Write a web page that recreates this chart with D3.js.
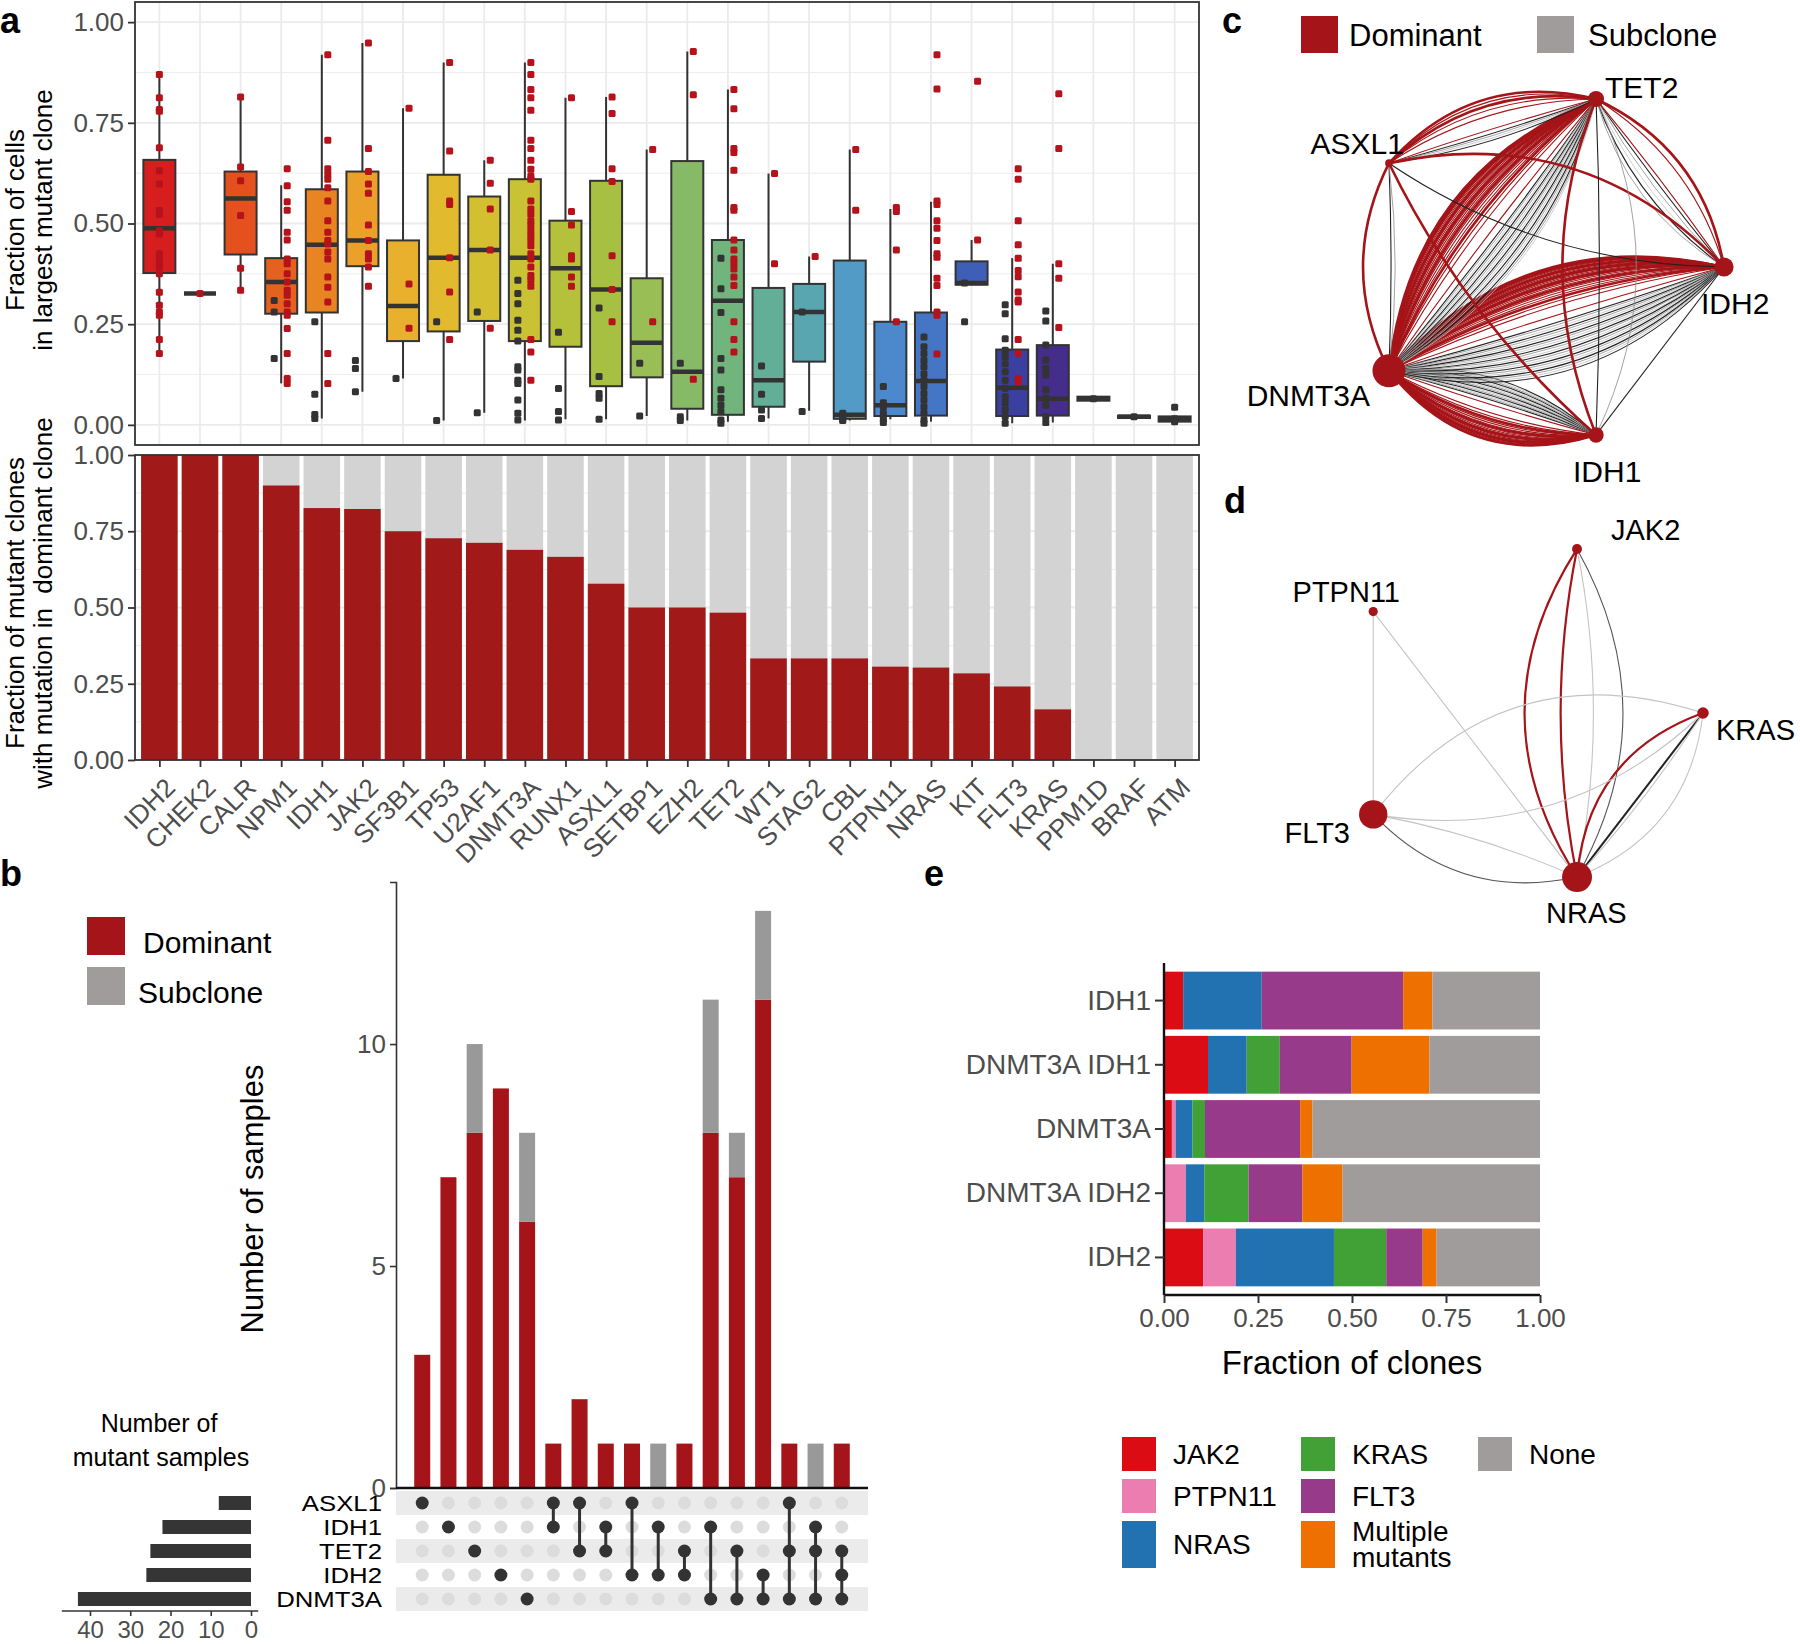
<!DOCTYPE html>
<html>
<head>
<meta charset="utf-8">
<script src="https://cdn.jsdelivr.net/npm/d3@7"></script>
<style>
body { margin: 0; background: #fff; }
svg { font-family: "Liberation Sans", Arial, Helvetica, sans-serif; }
.tick text { fill: #4d4d4d; }
</style>
</head>
<body>
<svg id="fig" width="1800" height="1644"></svg>
<script>

/*
Panel a data: genes, box statistics, points and dominant fraction
*/
var genes = ["IDH2","CHEK2","CALR","NPM1","IDH1","JAK2","SF3B1","TP53","U2AF1","DNMT3A","RUNX1","ASXL1","SETBP1",
	"EZH2","TET2","WT1","STAG2","CBL","PTPN11","NRAS","KIT","FLT3","KRAS","PPM1D","BRAF","ATM"];

var boxLow    = [0.177,0.326,0.334,0.103,0.016,0.082,0.115,0.011,0.030,0.011,0.014,0.014,0.022,0.011,0.008,0.016,0.035,0.011,0.014,0.008,0.348,0.004,0.006,0.062,0.017,0.008];
var boxQ1     = [0.377,0.326,0.423,0.276,0.279,0.394,0.208,0.232,0.258,0.208,0.194,0.096,0.118,0.040,0.025,0.045,0.157,0.015,0.022,0.023,0.348,0.022,0.023,0.060,0.017,0.008];
var boxMedian = [0.488,0.326,0.562,0.355,0.447,0.458,0.295,0.415,0.434,0.415,0.389,0.336,0.204,0.132,0.308,0.111,0.280,0.025,0.049,0.109,0.352,0.092,0.065,0.065,0.020,0.015];
var boxQ3     = [0.658,0.326,0.629,0.414,0.585,0.629,0.458,0.621,0.567,0.610,0.507,0.606,0.364,0.655,0.459,0.340,0.350,0.408,0.256,0.279,0.406,0.187,0.198,0.070,0.023,0.021];
var boxHigh   = [0.870,0.326,0.814,0.595,0.919,0.948,0.786,0.900,0.657,0.900,0.812,0.814,0.684,0.927,0.833,0.624,0.418,0.684,0.536,0.554,0.459,0.414,0.400,0.070,0.023,0.021];

// Fraction of cells per sample, mutation in dominant clone
var dominantPoints = [
	[0.870,0.812,0.783,0.779,0.688,0.631,0.598,0.532,0.523,0.482,0.474,0.425,0.412,0.400,0.392,0.375,0.329,0.297,0.280,0.272,0.212,0.177],
	[0.326],
	[0.814,0.640,0.606,0.520,0.389,0.334],
	[0.636,0.594,0.554,0.533,0.478,0.459,0.412,0.400,0.375,0.355,0.334,0.322,0.301,0.280,0.272,0.239,0.177,0.115,0.103],
	[0.919,0.707,0.636,0.622,0.610,0.589,0.556,0.507,0.478,0.458,0.449,0.429,0.412,0.367,0.342,0.305,0.177,0.103],
	[0.948,0.686,0.629,0.598,0.575,0.496,0.458,0.425,0.412,0.392,0.344],
	[0.786,0.350,0.240],
	[0.900,0.680,0.556,0.547,0.415,0.330,0.212],
	[0.657,0.600,0.536,0.434,0.240],
	[0.900,0.870,0.833,0.812,0.781,0.707,0.686,0.657,0.635,0.618,0.610,0.556,0.536,0.523,0.507,0.495,0.482,0.470,0.458,0.445,0.425,0.412,0.392,0.371,0.359,0.344,0.212,0.181,0.111],
	[0.812,0.530,0.496,0.420,0.412,0.367,0.344],
	[0.814,0.773,0.636,0.604,0.420,0.336,0.256],
	[0.684,0.256],
	[0.927,0.820,0.113],
	[0.833,0.785,0.686,0.676,0.632,0.540,0.533,0.459,0.434,0.412,0.400,0.387,0.367,0.346,0.256,0.212,0.181],
	[0.624,0.400],
	[0.418],
	[0.684,0.533],
	[0.540,0.530,0.434,0.256],
	[0.919,0.834,0.556,0.547,0.507,0.488,0.458,0.425,0.416,0.364,0.346,0.280,0.272,0.176],
	[0.853,0.459],
	[0.636,0.610,0.507,0.447,0.414,0.383,0.368,0.330,0.310,0.305,0.212,0.177,0.115,0.107],
	[0.822,0.686,0.400,0.364,0.242],
	[], [], []
];

// Fraction of cells per sample, mutation only in a subclone
var subclonePoints = [
	[], [], [],
	[0.309,0.280,0.165],
	[0.256,0.076,0.026,0.016],
	[0.160,0.140,0.082],
	[0.115],
	[0.256,0.011],
	[0.280,0.030],
	[0.359,0.326,0.301,0.260,0.235,0.208,0.144,0.136,0.111,0.103,0.062,0.029,0.012],
	[0.230,0.090,0.033,0.012],
	[0.290,0.120,0.078,0.066,0.014],
	[0.153,0.022],
	[0.153,0.020,0.011],
	[0.414,0.338,0.279,0.165,0.136,0.087,0.066,0.049,0.033,0.012,0.004],
	[0.146,0.076,0.037,0.016],
	[0.280,0.033],
	[0.029,0.021,0.014,0.011],
	[0.095,0.055,0.045,0.029,0.014,0.006],
	[0.218,0.194,0.177,0.160,0.144,0.127,0.111,0.095,0.078,0.062,0.045,0.029,0.012,0.004],
	[0.352,0.256],
	[0.298,0.276,0.214,0.185,0.169,0.152,0.132,0.111,0.091,0.070,0.054,0.037,0.021,0.004],
	[0.283,0.258,0.198,0.161,0.140,0.124,0.087,0.066,0.049,0.020,0.006],
	[0.065],
	[0.020],
	[0.044,0.015,0.008]
];

var dominantFraction = [1,1,1,0.9,0.826,0.823,0.75,0.727,0.712,0.689,0.666,0.578,0.5,0.5,0.483,0.333,0.333,0.333,0.306,0.303,0.284,0.241,0.166,0,0,0];

/*
Panel b data: upset plot
*/
var setNames = ["ASXL1","IDH1","TET2","IDH2","DNMT3A"];
var setSizes = [8,22,25,26,43];
var combos = [["ASXL1"],["IDH1"],["TET2"],["IDH2"],["DNMT3A"],["ASXL1","IDH1"],["ASXL1","TET2"],["IDH1","TET2"],
	["ASXL1","IDH2"],["IDH1","IDH2"],["TET2","IDH2"],["IDH1","DNMT3A"],["TET2","DNMT3A"],["IDH2","DNMT3A"],
	["ASXL1","TET2","DNMT3A"],["IDH1","TET2","DNMT3A"],["TET2","IDH2","DNMT3A"]];
var comboDominant = [3,7,8,9,6,1,2,1,1,0,1,8,7,11,1,0,1];
var comboSubclone = [0,0,2,0,2,0,0,0,0,1,0,3,1,2,0,1,0];

/*
Panel c and d data: co-mutation networks (circle layout order)
*/
var cGenes = ["IDH2","TET2","ASXL1","DNMT3A","IDH1"];
var cGeneSamples = [25,21,10,43,20];
var cLinks = [
	{source: "IDH1", target: "DNMT3A", dominant: 20, subclone: 16},
	{source: "DNMT3A", target: "IDH2", dominant: 26, subclone: 22},
	{source: "DNMT3A", target: "TET2", dominant: 22, subclone: 18},
	{source: "ASXL1", target: "TET2", dominant: 6, subclone: 4},
	{source: "DNMT3A", target: "ASXL1", dominant: 1, subclone: 2},
	{source: "TET2", target: "IDH2", dominant: 3, subclone: 5},
	{source: "ASXL1", target: "IDH2", dominant: 1, subclone: 1},
	{source: "IDH1", target: "TET2", dominant: 1, subclone: 2},
	{source: "IDH1", target: "ASXL1", dominant: 1, subclone: 0},
	{source: "IDH1", target: "IDH2", dominant: 0, subclone: 1}
];

var dGenes = ["KRAS","JAK2","PTPN11","FLT3","NRAS"];
var dGeneSamples = [15,13,12,37,39];
var dLinks = [
	{source: "NRAS", target: "JAK2", kind: "dominant"},
	{source: "NRAS", target: "JAK2", kind: "dominant"},
	{source: "NRAS", target: "JAK2", kind: "subclone"},
	{source: "NRAS", target: "JAK2", kind: "subclone"},
	{source: "NRAS", target: "KRAS", kind: "dominant"},
	{source: "NRAS", target: "KRAS", kind: "subclone"},
	{source: "NRAS", target: "KRAS", kind: "subclone"},
	{source: "NRAS", target: "KRAS", kind: "subclone"},
	{source: "FLT3", target: "KRAS", kind: "subclone"},
	{source: "FLT3", target: "KRAS", kind: "subclone"},
	{source: "FLT3", target: "NRAS", kind: "subclone"},
	{source: "FLT3", target: "NRAS", kind: "subclone"},
	{source: "PTPN11", target: "FLT3", kind: "subclone"},
	{source: "PTPN11", target: "NRAS", kind: "subclone"}
];

/*
Panel e data: fraction of clones with each secondary mutation
*/
var cloneRows = ["IDH1","DNMT3A IDH1","DNMT3A","DNMT3A IDH2","IDH2"];
var cloneTypes = ["JAK2","PTPN11","NRAS","KRAS","FLT3","Multiple mutants","None"];
var fracIDH1       = [0.051,0.000,0.209,0.000,0.376,0.078,0.286];
var fracDNMT3AIDH1 = [0.117,0.000,0.103,0.088,0.191,0.207,0.294];
var fracDNMT3A     = [0.021,0.010,0.045,0.033,0.253,0.033,0.605];
var fracDNMT3AIDH2 = [0.000,0.058,0.049,0.118,0.143,0.107,0.525];
var fracIDH2       = [0.104,0.087,0.261,0.139,0.097,0.037,0.275];

/*
Styles
*/
var darkRed = "#A51418";
var pointRed = "#B5121B";
var subGrey = "#999999";
var tickGrey = "#4d4d4d";
var boxColors = ["#D71E1E","#DD3A1D","#E4501E","#E5611F","#E98423","#EBA129","#E9B02D","#E1BA2E","#D4BF30","#C8C234",
	"#B6C13B","#A7C042","#98BE55","#86BA67","#71B47C","#63AE96","#5AA6B0","#519BC6","#4B88CC","#4575C5",
	"#3F5EB8","#3B40A0","#452D8B","#4B2683","#4C2380","#4D2180"];
var cloneColors = ["#DC0C14","#EB7DB0","#2272B2","#41A136","#973A8A","#EE7100","#A09C9B"];

var svg = d3.select("#fig");

/*
Panel letters
*/
svg.selectAll(".letter")
	.data([["a",0,33],["b",0,886],["c",1222,33],["d",1224,513],["e",924,886]])
	.enter().append("text")
	.attr("x", function(d) { return d[1]; })
	.attr("y", function(d) { return d[2]; })
	.attr("font-size", 36).attr("font-weight", "bold")
	.text(function(d) { return d[0]; });

/*******************************************************************************
Panel a
*******************************************************************************/
var aLeft = 135, aRight = 1199;
var xA = d3.scalePoint().domain(genes).range([aLeft, aRight]).padding(0.6);
var yTop = d3.scaleLinear().domain([-0.05, 1.05]).range([445, 2]);
var yBot = d3.scaleLinear().domain([0, 1]).range([760, 455]);
var majorTicks = [0, 0.25, 0.5, 0.75, 1];
var minorTicks = [0.125, 0.375, 0.625, 0.875];

function drawGrid(g, y) {
	g.selectAll(".minor").data(minorTicks).enter().append("line")
		.attr("x1", aLeft).attr("x2", aRight)
		.attr("y1", y).attr("y2", y)
		.attr("stroke", "#ebebeb").attr("stroke-width", 0.9);
	g.selectAll(".major").data(majorTicks).enter().append("line")
		.attr("x1", aLeft).attr("x2", aRight)
		.attr("y1", y).attr("y2", y)
		.attr("stroke", "#ebebeb").attr("stroke-width", 1.8);
	g.selectAll(".vgrid").data(genes).enter().append("line")
		.attr("x1", xA).attr("x2", xA)
		.attr("y1", y.range()[1]).attr("y2", y.range()[0])
		.attr("stroke", "#ebebeb").attr("stroke-width", 1.8);
}

function styleAxis(g, size) {
	g.select(".domain").remove();
	g.selectAll(".tick line").attr("stroke", "#333").attr("stroke-width", 1.8);
	g.selectAll(".tick text").attr("font-size", size).attr("fill", tickGrey);
}

// Top: boxplots
var gTop = svg.append("g");
drawGrid(gTop, yTop);

var boxW = 32;
genes.forEach(function(gene, i) {
	var cx = xA(gene);
	var g = gTop.append("g");
	g.append("line").attr("x1", cx).attr("x2", cx)
		.attr("y1", yTop(boxLow[i])).attr("y2", yTop(boxHigh[i]))
		.attr("stroke", "#333").attr("stroke-width", 2);
	g.append("rect")
		.attr("x", cx - boxW / 2).attr("width", boxW)
		.attr("y", yTop(boxQ3[i])).attr("height", Math.max(0, yTop(boxQ1[i]) - yTop(boxQ3[i])))
		.attr("fill", boxColors[i]).attr("stroke", "#333").attr("stroke-width", 2);
	g.append("line")
		.attr("x1", cx - boxW / 2).attr("x2", cx + boxW / 2)
		.attr("y1", yTop(boxMedian[i])).attr("y2", yTop(boxMedian[i]))
		.attr("stroke", "#333").attr("stroke-width", 4.5);

	var both = dominantPoints[i].length > 0 && subclonePoints[i].length > 0;
	g.selectAll(".sp").data(subclonePoints[i]).enter().append("rect")
		.attr("x", cx - (both ? 7 : 0) - 3.5).attr("y", function(d) { return yTop(d) - 3.5; })
		.attr("width", 7).attr("height", 7).attr("rx", 1.5)
		.attr("fill", "#333");
	g.selectAll(".dp").data(dominantPoints[i]).enter().append("rect")
		.attr("x", cx + (both ? 6 : 0) - 3.5).attr("y", function(d) { return yTop(d) - 3.5; })
		.attr("width", 7).attr("height", 7).attr("rx", 1.5)
		.attr("fill", pointRed);
});

gTop.append("rect")
	.attr("x", aLeft).attr("y", 2).attr("width", aRight - aLeft).attr("height", 443)
	.attr("fill", "none").attr("stroke", "#333").attr("stroke-width", 1.8);

gTop.append("g").attr("transform", "translate(" + aLeft + ",0)")
	.call(d3.axisLeft(yTop).tickValues(majorTicks).tickFormat(d3.format(".2f")).tickSize(7).tickPadding(4))
	.call(styleAxis, 26);

// Bottom: fraction dominant bars
var gBot = svg.append("g");
drawGrid(gBot, yBot);

var barW = xA.step() * 0.9;
gBot.selectAll(".bg").data(genes).enter().append("rect")
	.attr("x", function(d) { return xA(d) - barW / 2; }).attr("width", barW)
	.attr("y", yBot(1)).attr("height", yBot(0) - yBot(1))
	.attr("fill", "#D3D3D3");
gBot.selectAll(".fg").data(genes).enter().append("rect")
	.attr("x", function(d) { return xA(d) - barW / 2; }).attr("width", barW)
	.attr("y", function(d, i) { return yBot(dominantFraction[i]); })
	.attr("height", function(d, i) { return yBot(0) - yBot(dominantFraction[i]); })
	.attr("fill", "#A2191A");

gBot.append("rect")
	.attr("x", aLeft).attr("y", 455).attr("width", aRight - aLeft).attr("height", 305)
	.attr("fill", "none").attr("stroke", "#333").attr("stroke-width", 1.8);

gBot.append("g").attr("transform", "translate(" + aLeft + ",0)")
	.call(d3.axisLeft(yBot).tickValues(majorTicks).tickFormat(d3.format(".2f")).tickSize(7).tickPadding(4))
	.call(styleAxis, 26);

var xAxisA = gBot.append("g").attr("transform", "translate(0,760)")
	.call(d3.axisBottom(xA).tickSize(7).tickFormat(""));
styleAxis(xAxisA, 26);

gBot.selectAll(".glabel").data(genes).enter().append("text")
	.attr("transform", function(d) { return "translate(" + (xA(d) + 4) + ",776) rotate(-45)"; })
	.attr("text-anchor", "end").attr("dy", "0.72em")
	.attr("font-size", 26).attr("fill", tickGrey)
	.text(function(d) { return d; });

// Axis titles
function yTitle(lines, cy) {
	var t = svg.append("g");
	lines.forEach(function(line, k) {
		t.append("text")
			.attr("transform", "translate(" + (24 + k * 28) + "," + cy + ") rotate(-90)")
			.attr("text-anchor", "middle").attr("font-size", 26)
			.style("white-space", "pre")
			.text(line);
	});
}
yTitle(["Fraction of cells", "in largest mutant clone"], 220);
yTitle(["Fraction of mutant clones", "with mutation in  dominant clone"], 603);

/*******************************************************************************
Panel b
*******************************************************************************/
var gB = svg.append("g");
var xB = d3.scaleLinear().domain([0, combos.length + 1]).range([396, 868]);
var yB = d3.scaleLinear().domain([0, 13 * 1.05]).range([1488, 882]);

// Legend
gB.append("rect").attr("x", 87).attr("y", 917).attr("width", 38).attr("height", 38).attr("fill", darkRed);
gB.append("rect").attr("x", 87).attr("y", 967).attr("width", 38).attr("height", 38).attr("fill", "#A09C9C");
gB.append("text").attr("x", 143).attr("y", 942).attr("dy", "0.35em").attr("font-size", 30).text("Dominant");
gB.append("text").attr("x", 138).attr("y", 992).attr("dy", "0.35em").attr("font-size", 30).text("Subclone");

// Stacked intersection bars
var barB = 16;
gB.selectAll(".bd").data(combos).enter().append("rect")
	.attr("x", function(d, i) { return xB(i + 1) - barB / 2; }).attr("width", barB)
	.attr("y", function(d, i) { return yB(comboDominant[i]); })
	.attr("height", function(d, i) { return yB(0) - yB(comboDominant[i]); })
	.attr("fill", darkRed);
gB.selectAll(".bs").data(combos).enter().append("rect")
	.attr("x", function(d, i) { return xB(i + 1) - barB / 2; }).attr("width", barB)
	.attr("y", function(d, i) { return yB(comboDominant[i] + comboSubclone[i]); })
	.attr("height", function(d, i) { return yB(comboDominant[i]) - yB(comboDominant[i] + comboSubclone[i]); })
	.attr("fill", subGrey);

var yAxisB = gB.append("g").attr("transform", "translate(396,0)")
	.call(d3.axisLeft(yB).tickValues([0, 5, 10]).tickSize(6).tickPadding(4));
yAxisB.select(".domain").attr("stroke", "#333").attr("stroke-width", 1.6);
yAxisB.selectAll(".tick line").attr("stroke", "#333").attr("stroke-width", 1.6);
yAxisB.selectAll(".tick text").attr("font-size", 26).attr("fill", tickGrey);

gB.append("line").attr("x1", xB(0)).attr("x2", xB(combos.length + 1))
	.attr("y1", yB(0)).attr("y2", yB(0)).attr("stroke", "#111").attr("stroke-width", 2.6);

gB.append("text")
	.attr("transform", "translate(263,1199) rotate(-90)")
	.attr("text-anchor", "middle").attr("font-size", 31)
	.text("Number of samples");

// Matrix
var yM = d3.scalePoint().domain(setNames).range([1503, 1599]);
gB.selectAll(".stripe").data(setNames.filter(function(d, i) { return i % 2 === 0; })).enter().append("rect")
	.attr("x", xB(0)).attr("width", xB(combos.length + 1) - xB(0))
	.attr("y", function(d) { return yM(d) - 12; }).attr("height", 24)
	.attr("fill", "#EBEBEB");

combos.forEach(function(combo, i) {
	var cx = xB(i + 1);
	setNames.forEach(function(s) {
		gB.append("circle").attr("cx", cx).attr("cy", yM(s)).attr("r", 6.5)
			.attr("fill", combo.indexOf(s) >= 0 ? "#333" : "#DCDCDC");
	});
	if (combo.length > 1) {
		var ys = combo.map(function(s) { return yM(s); });
		gB.append("line").attr("x1", cx).attr("x2", cx)
			.attr("y1", d3.min(ys)).attr("y2", d3.max(ys))
			.attr("stroke", "#333").attr("stroke-width", 3);
	}
});

gB.selectAll(".setlabel").data(setNames).enter().append("text")
	.attr("x", 382).attr("y", yM).attr("dy", "0.35em")
	.attr("text-anchor", "end").attr("font-size", 23)
	.attr("transform", function(d) { return "translate(382," + yM(d) + ") scale(1.12,1) translate(-382," + (-yM(d)) + ")"; })
	.text(function(d) { return d; });

// Set sizes
var xS = d3.scaleLinear().domain([0, 40]).range([251, 90]);
gB.selectAll(".setbar").data(setNames).enter().append("rect")
	.attr("x", function(d, i) { return xS(setSizes[i]); })
	.attr("width", function(d, i) { return xS(0) - xS(setSizes[i]); })
	.attr("y", function(d) { return yM(d) - 7; }).attr("height", 14)
	.attr("fill", "#353535");

var sAxis = gB.append("g").attr("transform", "translate(0,1611)")
	.call(d3.axisBottom(xS).tickValues([0, 10, 20, 30, 40]).tickSize(5).tickPadding(5).tickSizeOuter(0));
sAxis.select(".domain").attr("d", "M" + xS(47) + ",0H" + xS(-1.8)).attr("stroke", "#333").attr("stroke-width", 1.6);
sAxis.selectAll(".tick line").attr("stroke", "#333").attr("stroke-width", 1.6);
sAxis.selectAll(".tick text").attr("font-size", 24).attr("fill", tickGrey);

gB.append("text").attr("x", 159).attr("y", 1423).attr("dy", "0.35em")
	.attr("text-anchor", "middle").attr("font-size", 25).text("Number of");
gB.append("text").attr("x", 161).attr("y", 1457).attr("dy", "0.35em")
	.attr("text-anchor", "middle").attr("font-size", 25).text("mutant samples");

/*******************************************************************************
Panels c and d: networks
*******************************************************************************/
function circleLayout(names) {
	var pos = {};
	names.forEach(function(n, i) {
		var a = 2 * Math.PI * i / names.length;
		pos[n] = [Math.cos(a), Math.sin(a)];
	});
	return pos;
}

function edgePath(s, t, bend) {
	var dx = t[0] - s[0], dy = t[1] - s[1];
	var cx = (s[0] + t[0]) / 2 - dy * bend, cy = (s[1] + t[1]) / 2 + dx * bend;
	return "M" + s[0] + "," + s[1] + "Q" + cx + "," + cy + " " + t[0] + "," + t[1];
}

var greyTones = ["#222222", "#8c8c8c", "#c2c2c2"];
var nodeR = d3.scaleLinear().domain([0, 43]).range([0, 16.5]);

// Panel c
var cLayout = circleLayout(cGenes);
var xC = d3.scaleLinear().domain([-1, 1]).range([1353.6, 1724]);
var yC = d3.scaleLinear().domain([-1, 1]).range([443.6, 90.4]);
function cPos(n) { return [xC(cLayout[n][0]), yC(cLayout[n][1])]; }

// [max bend for dominant bundle, max bend for subclone bundle]
var cBend = [[0.34,0.22],[0.29,0.30],[0.30,0.22],[0.30,0.08],[0.25,0.06],[0.26,0.2],[0.28,0.15],[0.20,0.24],[0.10,0],[0,0]];

var gC = svg.append("g");
cLinks.forEach(function(l, j) {
	var s = cPos(l.source), t = cPos(l.target);
	var k;
	for (k = 0; k < l.subclone; k++) {
		var b = l.subclone === 1 ? cBend[j][1] : 0.02 + (cBend[j][1] - 0.02) * k / (l.subclone - 1);
		gC.append("path").attr("d", edgePath(s, t, b))
			.attr("fill", "none").attr("stroke", greyTones[k % 3])
			.attr("stroke-width", k % 3 === 0 ? 1.1 : 0.8);
	}
	for (k = 0; k < l.dominant; k++) {
		var b2 = l.dominant === 1 ? cBend[j][0] : 0.02 + (cBend[j][0] - 0.02) * Math.sqrt(k / (l.dominant - 1));
		gC.append("path").attr("d", edgePath(s, t, -b2))
			.attr("fill", "none").attr("stroke", darkRed)
			.attr("stroke-width", (k % 4 === 3 || k === l.dominant - 1) ? 2.6 : 1.1);
	}
});
gC.selectAll(".node").data(cGenes).enter().append("circle")
	.attr("cx", function(d) { return cPos(d)[0]; })
	.attr("cy", function(d) { return cPos(d)[1]; })
	.attr("r", function(d, i) { return nodeR(cGeneSamples[i]); })
	.attr("fill", darkRed);

var cLabelPos = {IDH2: [1701, 303, "start"], TET2: [1605, 87, "start"], ASXL1: [1404, 143, "end"],
	DNMT3A: [1370, 395, "end"], IDH1: [1573, 471, "start"]};
gC.selectAll(".nlabel").data(cGenes).enter().append("text")
	.attr("x", function(d) { return cLabelPos[d][0]; })
	.attr("y", function(d) { return cLabelPos[d][1]; })
	.attr("text-anchor", function(d) { return cLabelPos[d][2]; })
	.attr("dy", "0.35em").attr("font-size", 30)
	.text(function(d) { return d; });

gC.append("rect").attr("x", 1301).attr("y", 16).attr("width", 37).attr("height", 37).attr("fill", darkRed);
gC.append("rect").attr("x", 1537).attr("y", 16).attr("width", 37).attr("height", 37).attr("fill", "#A09C9C");
gC.append("text").attr("x", 1349).attr("y", 35).attr("dy", "0.35em").attr("font-size", 31).text("Dominant");
gC.append("text").attr("x", 1588).attr("y", 35).attr("dy", "0.35em").attr("font-size", 31).text("Subclone");

// Panel d
var dLayout = circleLayout(dGenes);
var xD = d3.scaleLinear().domain([-1, 1]).range([1338.4, 1703]);
var yD = d3.scaleLinear().domain([-1, 1]).range([885.5, 540.5]);
function dPos(n) { return [xD(dLayout[n][0]), yD(dLayout[n][1])]; }

var dBend = [0.10, 0.32, 0.10, 0.28, 0.32, 0.0, 0.04, 0.30, -0.35, 0.25, 0.28, -0.06, 0, 0];
var dTone = ["", "", "#c4c4c4", "#555555", "", "#222222", "#c4c4c4", "#c4c4c4", "#c4c4c4", "#c4c4c4", "#555555", "#c4c4c4", "#c4c4c4", "#c4c4c4"];

var gD = svg.append("g");
dLinks.forEach(function(l, j) {
	var s = dPos(l.source), t = dPos(l.target);
	var dom = l.kind === "dominant";
	gD.append("path").attr("d", edgePath(s, t, dom ? -dBend[j] : dBend[j]))
		.attr("fill", "none")
		.attr("stroke", dom ? darkRed : dTone[j])
		.attr("stroke-width", dom ? 2.2 : (dTone[j] === "#222222" ? 2 : 1.1));
});
gD.selectAll(".node").data(dGenes).enter().append("circle")
	.attr("cx", function(d) { return dPos(d)[0]; })
	.attr("cy", function(d) { return dPos(d)[1]; })
	.attr("r", function(d, i) { return nodeR(dGeneSamples[i]); })
	.attr("fill", darkRed);

var dLabelPos = {KRAS: [1716, 730, "start"], JAK2: [1611, 530, "start"], PTPN11: [1400, 592, "end"],
	FLT3: [1350, 833, "end"], NRAS: [1546, 913, "start"]};
gD.selectAll(".nlabel").data(dGenes).enter().append("text")
	.attr("x", function(d) { return dLabelPos[d][0]; })
	.attr("y", function(d) { return dLabelPos[d][1]; })
	.attr("text-anchor", function(d) { return dLabelPos[d][2]; })
	.attr("dy", "0.35em").attr("font-size", 29)
	.text(function(d) { return d; });

/*******************************************************************************
Panel e
*******************************************************************************/
var gE = svg.append("g");
var fracTable = [fracIDH1, fracDNMT3AIDH1, fracDNMT3A, fracDNMT3AIDH2, fracIDH2].map(function(f, r) {
	var row = {row: cloneRows[r]};
	cloneTypes.forEach(function(t, k) { row[t] = f[k]; });
	return row;
});
var stackE = d3.stack().keys(cloneTypes)(fracTable);
var xE = d3.scaleLinear().domain([0, 1]).range([1164, 1540]);
var yE = d3.scaleBand().domain(cloneRows).range([963, 1295]).paddingInner(0.1).paddingOuter(0.135);

gE.selectAll(".layer").data(stackE).enter().append("g")
	.attr("fill", function(d, i) { return cloneColors[i]; })
	.selectAll("rect").data(function(d) { return d; }).enter().append("rect")
	.attr("x", function(d) { return xE(d[0]); })
	.attr("width", function(d) { return xE(d[1]) - xE(d[0]); })
	.attr("y", function(d) { return yE(d.data.row); })
	.attr("height", yE.bandwidth());

var eY = gE.append("g").attr("transform", "translate(1164,0)")
	.call(d3.axisLeft(yE).tickSize(9).tickPadding(4));
eY.select(".domain").attr("d", "M0,963V1295").attr("stroke", "#111").attr("stroke-width", 2.4);
eY.selectAll(".tick line").attr("stroke", "#333").attr("stroke-width", 2);
eY.selectAll(".tick text").attr("font-size", 28).attr("fill", "#333");

var eX = gE.append("g").attr("transform", "translate(0,1295)")
	.call(d3.axisBottom(xE).tickValues([0, 0.25, 0.5, 0.75, 1]).tickFormat(d3.format(".2f")).tickSize(8).tickPadding(6));
eX.select(".domain").attr("d", "M1164,0H1540").attr("stroke", "#111").attr("stroke-width", 2.4);
eX.selectAll(".tick line").attr("stroke", "#333").attr("stroke-width", 2);
eX.selectAll(".tick text").attr("font-size", 26).attr("fill", tickGrey);

gE.append("text").attr("x", 1352).attr("y", 1362).attr("dy", "0.35em")
	.attr("text-anchor", "middle").attr("font-size", 33).text("Fraction of clones");

// Legend: three columns
var legendCol = [0, 0, 0, 1, 1, 1, 2];
var legendRow = [0, 1, 2, 0, 1, 2, 0];
var colX = [1122, 1301, 1478];
var rowTop = [1437, 1479, 1521];
var rowH = [34, 34, 47];
cloneTypes.forEach(function(t, i) {
	var c = legendCol[i], r = legendRow[i];
	gE.append("rect").attr("x", colX[c]).attr("y", rowTop[r])
		.attr("width", 34).attr("height", rowH[r]).attr("fill", cloneColors[i]);
	var words = t === "Multiple mutants" ? ["Multiple", "mutants"] : [t];
	var cy = rowTop[r] + rowH[r] / 2;
	words.forEach(function(w, k) {
		gE.append("text").attr("x", colX[c] + 51)
			.attr("y", cy + (k - (words.length - 1) / 2) * 26)
			.attr("dy", "0.35em").attr("font-size", 28).text(w);
	});
});

</script>
</body>
</html>
